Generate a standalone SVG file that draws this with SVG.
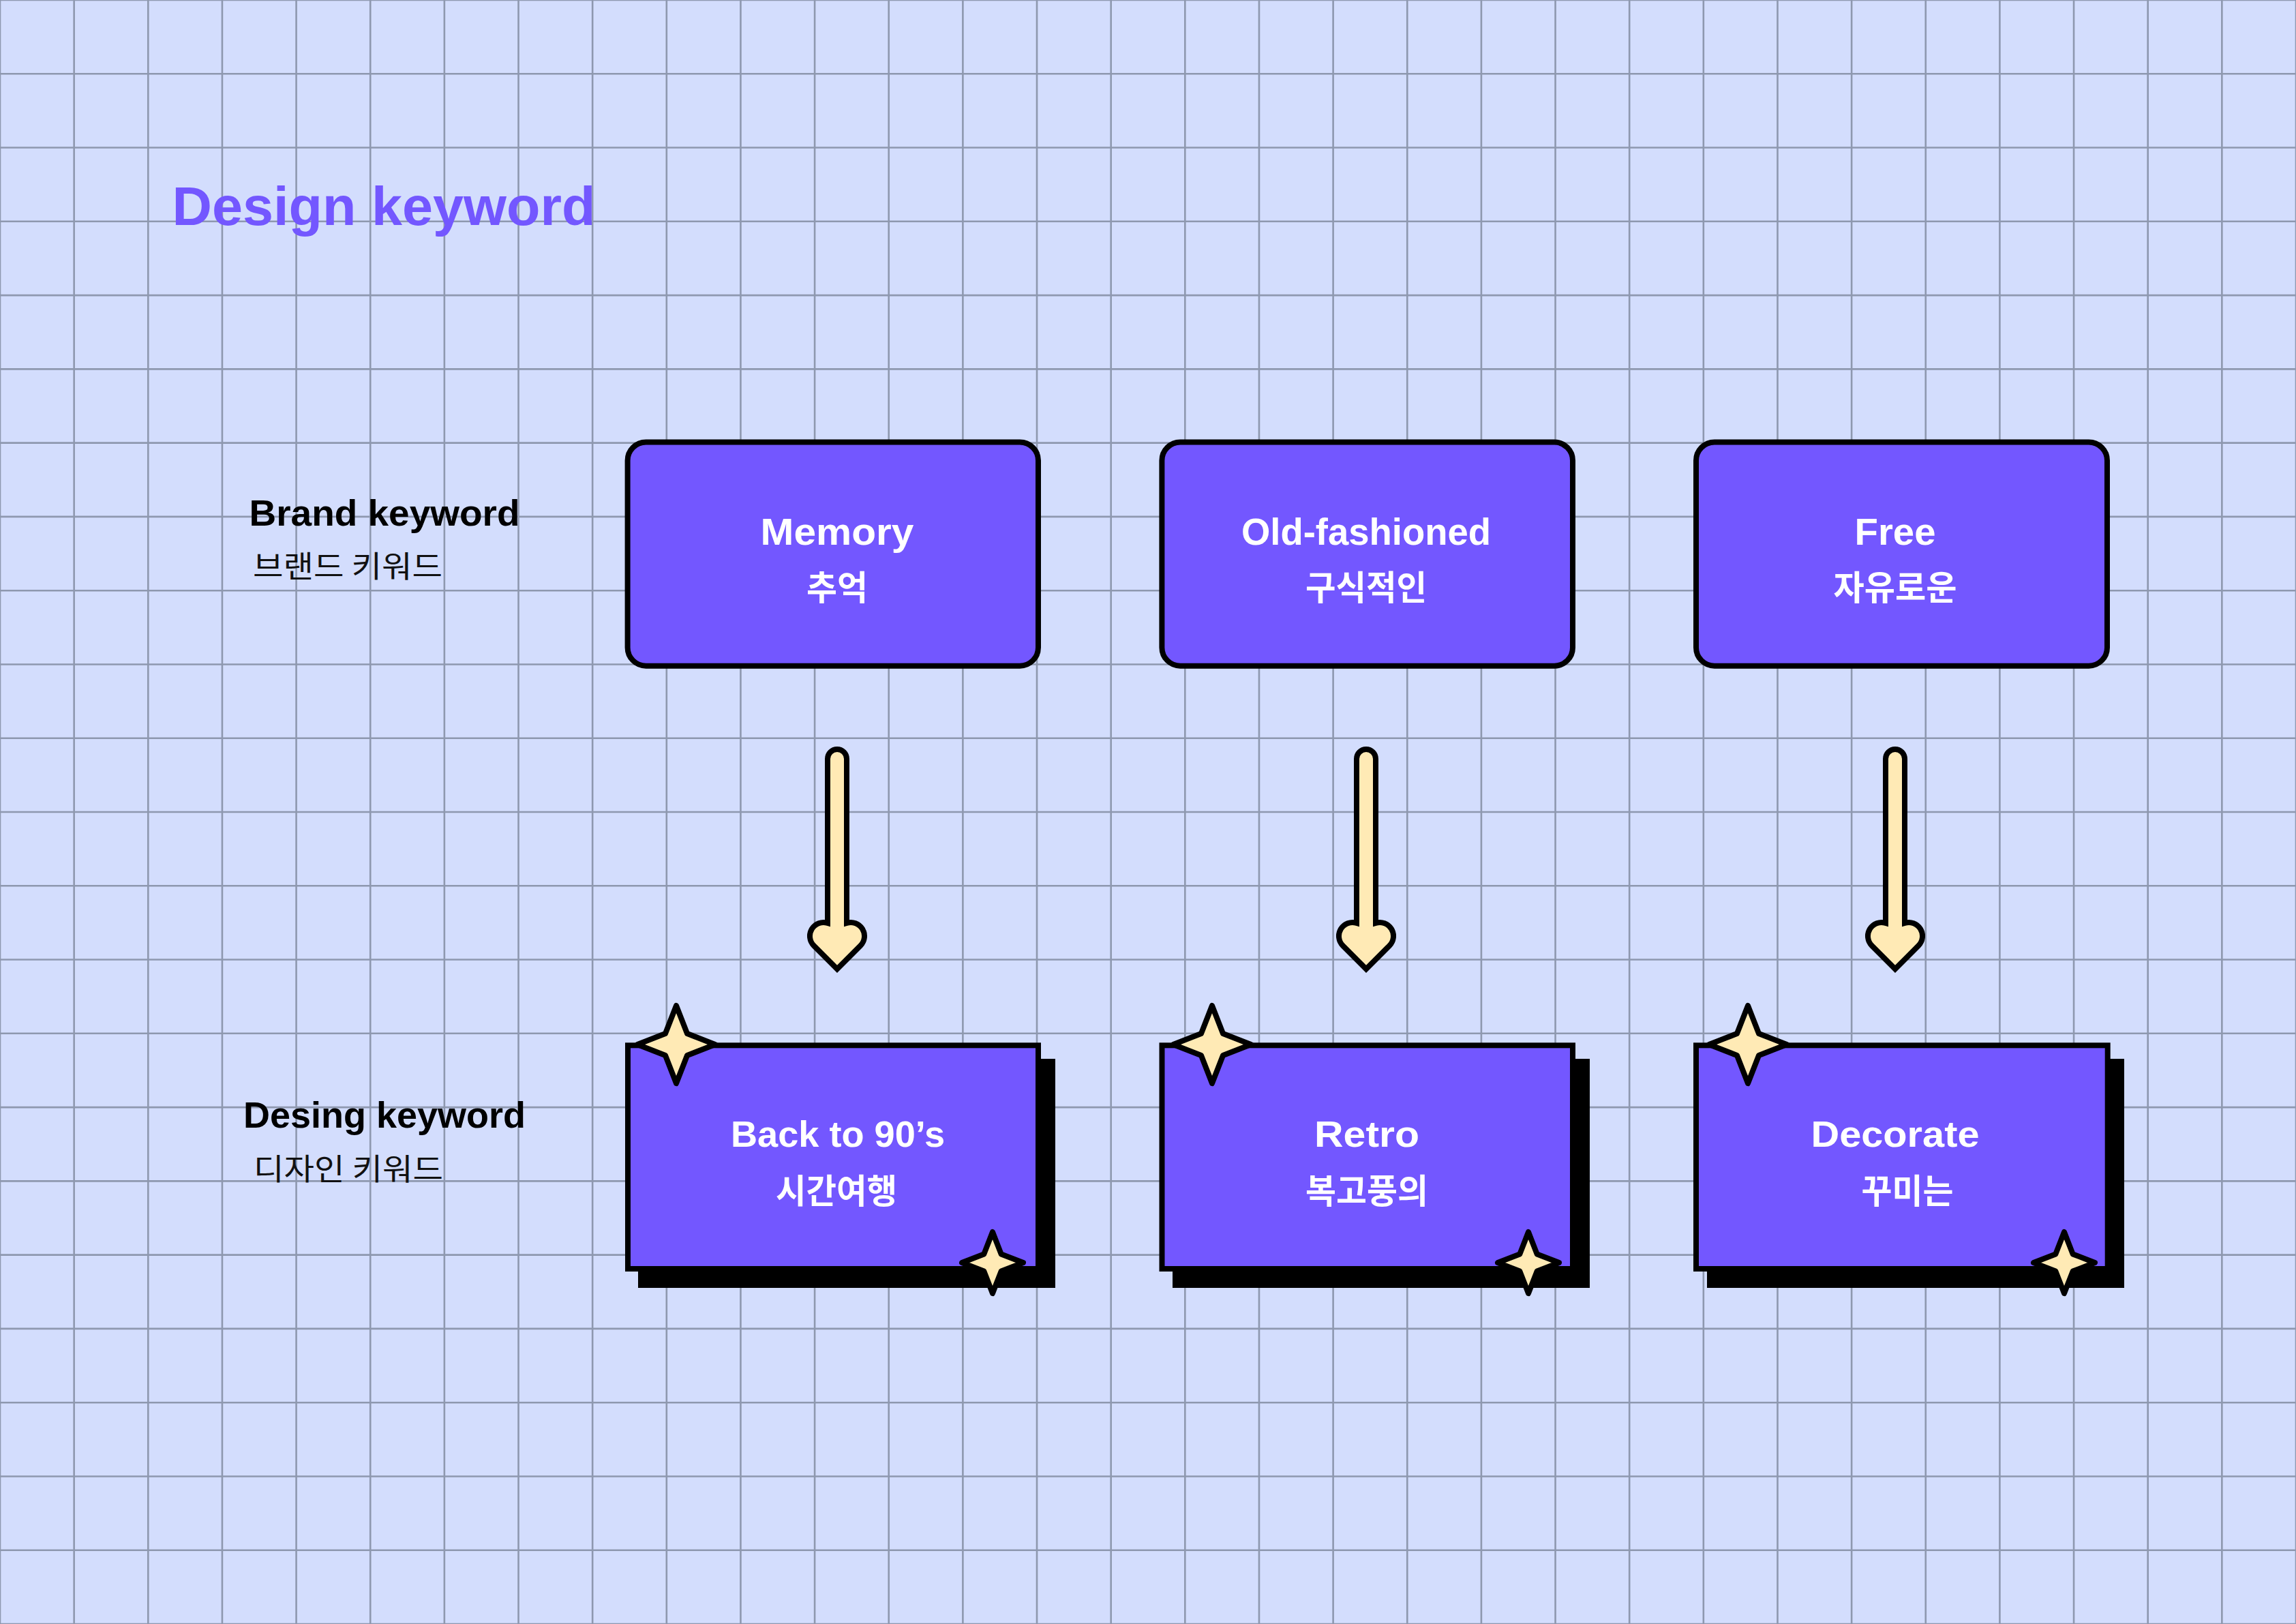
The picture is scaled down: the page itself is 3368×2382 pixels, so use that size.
<svg xmlns="http://www.w3.org/2000/svg" xmlns:xlink="http://www.w3.org/1999/xlink" width="3368" height="2382" viewBox="0 0 3368 2382">
<style>
.bg{fill:#D3DDFD}
.grid{fill:none;stroke:#8E98AF;stroke-width:2.6}
.box{fill:#7357FF;stroke:#000;stroke-width:8}
.shadow{fill:#000}
.star{fill:#FFEAB5;stroke:#000;stroke-width:8;stroke-linejoin:round}
.arrow{fill:#FFEAB5;stroke:#000;stroke-width:8;stroke-linejoin:miter}
.en{font-family:"Liberation Sans",Arial,sans-serif;font-weight:700}
.ko{font-family:"Noto Sans CJK KR","Noto Sans",sans-serif}
.w{fill:#FFFFFF}
.mid{text-anchor:middle}
</style>
<defs>
<path id="arrowShape" class="arrow" d="M -14 1113 A 14 14 0 0 1 14 1113 L 14 1353.9 A 20 20 0 0 1 34.14 1387.14 L 0 1421.3 L -34.14 1387.14 A 20 20 0 0 1 -14 1353.9 Z"/>
<path id="starL" class="star" d="M 0 -57 L 16 -16 L 57 0 L 16 16 L 0 57 L -16 16 L -57 0 L -16 -16 Z"/>
<path id="starS" class="star" d="M 0 -45 L 12.6 -12.6 L 45 0 L 12.6 12.6 L 0 45 L -12.6 12.6 L -45 0 L -12.6 -12.6 Z"/>
</defs>
<rect class="bg" x="0" y="0" width="3368" height="2382"/>
<path class="grid" d="M0 0V2382M108.65 0V2382M217.29 0V2382M325.94 0V2382M434.58 0V2382M543.23 0V2382M651.87 0V2382M760.52 0V2382M869.16 0V2382M977.81 0V2382M1086.45 0V2382M1195.1 0V2382M1303.74 0V2382M1412.39 0V2382M1521.03 0V2382M1629.68 0V2382M1738.32 0V2382M1846.97 0V2382M1955.61 0V2382M2064.26 0V2382M2172.9 0V2382M2281.55 0V2382M2390.19 0V2382M2498.84 0V2382M2607.48 0V2382M2716.13 0V2382M2824.77 0V2382M2933.42 0V2382M3042.06 0V2382M3150.71 0V2382M3259.35 0V2382M3368 0V2382M0 0H3368M0 108.27H3368M0 216.55H3368M0 324.82H3368M0 433.09H3368M0 541.36H3368M0 649.64H3368M0 757.91H3368M0 866.18H3368M0 974.45H3368M0 1082.73H3368M0 1191H3368M0 1299.27H3368M0 1407.55H3368M0 1515.82H3368M0 1624.09H3368M0 1732.36H3368M0 1840.64H3368M0 1948.91H3368M0 2057.18H3368M0 2165.45H3368M0 2273.73H3368M0 2382H3368"/>

<g id="title">
<text class="en" x="252.5" y="330" font-size="80" fill="#7357FF" textLength="621" lengthAdjust="spacingAndGlyphs">Design keyword</text>
</g>

<g id="label-brand">
<text class="en" x="365.5" y="771" font-size="53" fill="#000" textLength="397" lengthAdjust="spacingAndGlyphs">Brand keyword</text>
<text class="ko" x="371" y="847" font-size="44" fill="#111" textLength="278" lengthAdjust="spacingAndGlyphs">브랜드 키워드</text>
</g>

<g id="label-design">
<text class="en" x="357" y="1654" font-size="53" fill="#000" textLength="414" lengthAdjust="spacingAndGlyphs">Desing keyword</text>
<text class="ko" x="372" y="1731" font-size="44" fill="#111" textLength="278" lengthAdjust="spacingAndGlyphs">디자인 키워드</text>
</g>

<g id="connectors">
<use xlink:href="#arrowShape" href="#arrowShape" transform="translate(1228 0)"/>
<use xlink:href="#arrowShape" href="#arrowShape" transform="translate(2004 0)"/>
<use xlink:href="#arrowShape" href="#arrowShape" transform="translate(2780 0)"/>
</g>

<g id="brand-memory">
<rect class="box" x="920.6" y="648.5" width="602.4" height="328.2" rx="27"/>
<text class="en w mid" x="1228" y="799" font-size="55" textLength="225" lengthAdjust="spacingAndGlyphs">Memory</text>
<text class="ko w mid" x="1228" y="880" font-size="50" font-weight="700" textLength="90" lengthAdjust="spacingAndGlyphs">추억</text>
</g>

<g id="brand-oldfashioned">
<rect class="box" x="1704.4" y="648.5" width="602.6" height="328.2" rx="27"/>
<text class="en w mid" x="2004" y="799" font-size="55" textLength="366" lengthAdjust="spacingAndGlyphs">Old-fashioned</text>
<text class="ko w mid" x="2004" y="880" font-size="50" font-weight="700" textLength="178" lengthAdjust="spacingAndGlyphs">구식적인</text>
</g>

<g id="brand-free">
<rect class="box" x="2488" y="648.5" width="603" height="328.2" rx="27"/>
<text class="en w mid" x="2780" y="799" font-size="55" textLength="119" lengthAdjust="spacingAndGlyphs">Free</text>
<text class="ko w mid" x="2780" y="880" font-size="50" font-weight="700" textLength="181" lengthAdjust="spacingAndGlyphs">자유로운</text>
</g>

<g id="design-back90s">
<rect class="shadow" x="936" y="1553" width="612" height="336"/>
<rect class="box" x="921" y="1533.3" width="602" height="327.7"/>
<text class="en w mid" x="1229" y="1682" font-size="53" textLength="314" lengthAdjust="spacingAndGlyphs">Back to 90’s</text>
<text class="ko w mid" x="1227" y="1765" font-size="50" font-weight="700" textLength="178" lengthAdjust="spacingAndGlyphs">시간여행</text>
<use xlink:href="#starL" href="#starL" transform="translate(992 1532)"/>
<use xlink:href="#starS" href="#starS" transform="translate(1456 1852)"/>
</g>

<g id="design-retro">
<rect class="shadow" x="1720" y="1553" width="612" height="336"/>
<rect class="box" x="1704.5" y="1533.3" width="602.5" height="327.7"/>
<text class="en w mid" x="2005" y="1682" font-size="53" textLength="154" lengthAdjust="spacingAndGlyphs">Retro</text>
<text class="ko w mid" x="2005" y="1765" font-size="50" font-weight="700" textLength="180" lengthAdjust="spacingAndGlyphs">복고풍의</text>
<use xlink:href="#starL" href="#starL" transform="translate(1778 1532)"/>
<use xlink:href="#starS" href="#starS" transform="translate(2242 1852)"/>
</g>

<g id="design-decorate">
<rect class="shadow" x="2504" y="1553" width="612" height="336"/>
<rect class="box" x="2488" y="1533.3" width="603.7" height="327.7"/>
<text class="en w mid" x="2780" y="1682" font-size="53" textLength="247" lengthAdjust="spacingAndGlyphs">Decorate</text>
<text class="ko w mid" x="2798" y="1765" font-size="50" font-weight="700" textLength="135" lengthAdjust="spacingAndGlyphs">꾸미는</text>
<use xlink:href="#starL" href="#starL" transform="translate(2564 1532)"/>
<use xlink:href="#starS" href="#starS" transform="translate(3028 1852)"/>
</g>
</svg>
